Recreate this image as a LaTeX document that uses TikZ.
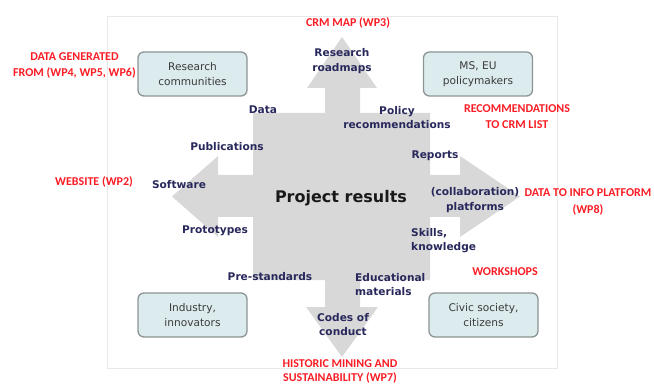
\documentclass[tikz,border=0pt]{standalone}
\usepackage{fontspec}
\setmainfont{DejaVu Sans}
\newfontfamily\calib{Carlito}
\definecolor{crossgray}{RGB}{216,216,216}
\definecolor{boxfill}{RGB}{220,235,237}
\definecolor{boxline}{RGB}{140,148,148}
\definecolor{outputnavy}{RGB}{40,40,92}
\definecolor{wpred}{RGB}{250,28,36}
\definecolor{boxtext}{RGB}{58,58,58}
\definecolor{framegray}{RGB}{232,232,232}
\begin{document}
\begin{tikzpicture}[x=1pt,y=-1pt,
  stakeholder/.style={draw=boxline, line width=1.3pt, fill=boxfill, rounded corners=6pt,
    minimum width=109pt, minimum height=44pt, align=center, text=boxtext,
    font=\fontsize{10.6}{15}\selectfont, inner sep=0pt},
  output/.style={text=outputnavy, font=\fontsize{10.6}{14.5}\selectfont\bfseries, inner sep=0pt},
  wplabel/.style={text=wpred, font=\calib\fontsize{12}{16.5}\selectfont\bfseries, inner sep=0pt, align=center}]
\useasboundingbox (0,0) rectangle (654,385);
% outer frame
\draw[framegray, line width=0.8pt] (107,16) rectangle (557,368);
% central block with its four arrows
\fill[crossgray] (342,37) -- (377,88) -- (360,88) -- (360,113) -- (430,113) -- (430,175)
  -- (460,175) -- (460,156) -- (520,196.5) -- (460,237) -- (460,217) -- (430,217)
  -- (430,280) -- (360,280) -- (360,307) -- (378,307) -- (342,357) -- (306,307)
  -- (325,307) -- (325,280) -- (253,280) -- (253,217) -- (218,217) -- (218,237)
  -- (172,196.5) -- (218,156) -- (218,175) -- (253,175) -- (253,113) -- (325,113)
  -- (325,88) -- (307,88) -- cycle;
\node[text=black!90, font=\fontsize{16}{19}\selectfont\bfseries, inner sep=0pt] (results) at (341,198) {Project results};
% stakeholder groups
\node[stakeholder] (research) at (192.5,74) {Research\\communities};
\node[stakeholder] (policy) at (478,74) {MS, EU\\policymakers};
\node[stakeholder] (industry) at (192.5,315) {Industry,\\innovators};
\node[stakeholder] (civic) at (483.5,315) {Civic society,\\citizens};
% project outputs
\node[output, align=center] (roadmaps) at (342,61) {Research\\roadmaps};
\node[output] (data) at (263,110) {Data};
\node[output, align=center] (policyrec) at (397,117.5) {Policy\\recommendations};
\node[output] (publications) at (227,147) {Publications};
\node[output] (reports) at (435,156) {Reports};
\node[output] (software) at (179,185) {Software};
\node[output, align=center] (platforms) at (475,200) {(collaboration)\\platforms};
\node[output] (prototypes) at (215,231) {Prototypes};
\node[output, align=left, anchor=west] (skills) at (411,240.5) {Skills,\\knowledge};
\node[output] (prestandards) at (270,277) {Pre-standards};
\node[output, align=left, anchor=west] (educational) at (355,284.5) {Educational\\materials};
\node[output, align=center] (codes) at (343,324.5) {Codes of\\conduct};
% work package notes
\node[wplabel] (wp3) at (348,23) {CRM MAP (WP3)};
\node[wplabel] (wp456) at (74.5,65.5) {DATA GENERATED\\FROM (WP4, WP5, WP6)};
\node[wplabel] (wp2) at (94,182) {WEBSITE (WP2)};
\node[wplabel] (crmlist) at (517,116.5) {RECOMMENDATIONS\\TO CRM LIST};
\node[wplabel] (wp8) at (588,202) {DATA TO INFO PLATFORM\\(WP8)};
\node[wplabel] (workshops) at (505,272) {WORKSHOPS};
\node[wplabel, font=\calib\fontsize{12}{14}\selectfont\bfseries] (wp7) at (340,371) {HISTORIC MINING AND\\SUSTAINABILITY (WP7)};
\end{tikzpicture}
\end{document}
